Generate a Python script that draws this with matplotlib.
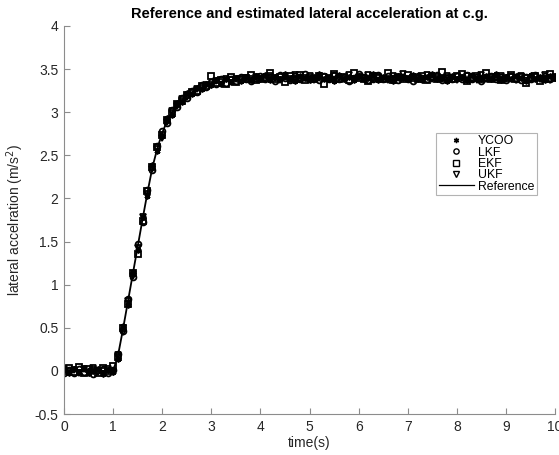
import numpy as np
import matplotlib
matplotlib.use("Agg")
import matplotlib.pyplot as plt

# sampling at 0.1 s, 0..10 s
t = np.arange(101) / 10.0

ref = ([0.0] * 11 +
       [0.18, 0.48, 0.80, 1.12, 1.44, 1.76, 2.07, 2.36, 2.58, 2.76,
        2.90, 3.00, 3.08, 3.14, 3.19, 3.23, 3.26, 3.29, 3.31, 3.33,
        3.345, 3.355, 3.365, 3.372, 3.378, 3.383, 3.387, 3.39, 3.393, 3.395] +
       [3.40] * 60)

ycoo = [0.01, -0.02, 0.02, -0.01, 0.03, -0.03, 0.00, 0.02, -0.04, 0.01, -0.01,
        0.14, 0.52, 0.76, 1.15, 1.40, 1.79, 2.03, 2.39, 2.55, 2.72,
        2.93, 2.97, 3.11, 3.12, 3.22, 3.21, 3.28, 3.27, 3.33, 3.31,
        3.37, 3.33, 3.39, 3.35, 3.40, 3.36, 3.41, 3.37, 3.42, 3.38,
        3.43, 3.37, 3.41, 3.38, 3.44, 3.39, 3.36, 3.42, 3.40, 3.37,
        3.41, 3.44, 3.38, 3.40, 3.36, 3.43, 3.39, 3.41, 3.37, 3.42,
        3.38, 3.40, 3.44, 3.37, 3.41, 3.39, 3.36, 3.42, 3.40, 3.38,
        3.43, 3.39, 3.37, 3.41, 3.44, 3.38, 3.40, 3.36, 3.42, 3.39,
        3.41, 3.37, 3.43, 3.40, 3.38, 3.42, 3.39, 3.44, 3.37, 3.41,
        3.38, 3.42, 3.40, 3.36, 3.43, 3.39, 3.41, 3.37, 3.42, 3.40]

lkf = [-0.02, 0.01, -0.03, 0.02, -0.01, 0.00, -0.04, 0.01, 0.02, -0.02, 0.01,
       0.20, 0.46, 0.83, 1.09, 1.47, 1.73, 2.10, 2.33, 2.61, 2.78,
       2.88, 3.02, 3.06, 3.16, 3.17, 3.25, 3.24, 3.31, 3.29, 3.35,
       3.33, 3.38, 3.34, 3.39, 3.36, 3.41, 3.38, 3.36, 3.40, 3.42,
       3.38, 3.41, 3.36, 3.43, 3.40, 3.37, 3.42, 3.39, 3.44, 3.38,
       3.40, 3.37, 3.42, 3.39, 3.43, 3.38, 3.41, 3.36, 3.40, 3.44,
       3.41, 3.37, 3.39, 3.43, 3.38, 3.42, 3.40, 3.37, 3.41, 3.39,
       3.36, 3.42, 3.40, 3.38, 3.41, 3.43, 3.37, 3.40, 3.38, 3.42,
       3.39, 3.43, 3.38, 3.41, 3.36, 3.40, 3.42, 3.38, 3.41, 3.37,
       3.42, 3.39, 3.37, 3.41, 3.38, 3.43, 3.40, 3.42, 3.38, 3.41]

ekf = [0.00, 0.03, -0.01, 0.04, -0.02, 0.02, 0.01, -0.03, 0.03, 0.00, 0.06,
       0.16, 0.50, 0.78, 1.13, 1.36, 1.74, 2.09, 2.37, 2.60, 2.74,
       2.91, 2.99, 3.09, 3.13, 3.20, 3.24, 3.25, 3.30, 3.30, 3.42,
       3.34, 3.37, 3.33, 3.41, 3.35, 3.38, 3.40, 3.43, 3.37, 3.39,
       3.40, 3.46, 3.38, 3.41, 3.35, 3.42, 3.39, 3.43, 3.37, 3.40,
       3.38, 3.42, 3.33, 3.40, 3.44, 3.39, 3.41, 3.37, 3.46, 3.40,
       3.39, 3.36, 3.42, 3.40, 3.38, 3.45, 3.37, 3.41, 3.39, 3.43,
       3.40, 3.38, 3.42, 3.37, 3.41, 3.39, 3.47, 3.40, 3.38, 3.42,
       3.44, 3.36, 3.40, 3.42, 3.38, 3.46, 3.39, 3.41, 3.37, 3.40,
       3.43, 3.38, 3.41, 3.34, 3.40, 3.42, 3.36, 3.39, 3.44, 3.40]

ukf = [0.02, -0.01, 0.01, -0.03, 0.02, -0.02, 0.03, -0.01, 0.00, 0.02, -0.01,
       0.19, 0.45, 0.81, 1.10, 1.42, 1.78, 2.05, 2.34, 2.57, 2.70,
       2.89, 3.01, 3.07, 3.15, 3.18, 3.22, 3.27, 3.28, 3.32, 3.32,
       3.36, 3.35, 3.38, 3.37, 3.39, 3.37, 3.40, 3.39, 3.41, 3.38,
       3.39, 3.42, 3.40, 3.37, 3.41, 3.39, 3.43, 3.38, 3.40, 3.42,
       3.37, 3.40, 3.41, 3.38, 3.42, 3.40, 3.38, 3.43, 3.39, 3.41,
       3.40, 3.43, 3.38, 3.41, 3.39, 3.37, 3.42, 3.40, 3.44, 3.38,
       3.41, 3.40, 3.38, 3.43, 3.39, 3.41, 3.38, 3.42, 3.40, 3.37,
       3.40, 3.42, 3.39, 3.37, 3.43, 3.38, 3.41, 3.40, 3.42, 3.39,
       3.41, 3.37, 3.42, 3.40, 3.38, 3.41, 3.39, 3.43, 3.37, 3.41]

names = ['YCOO', 'LKF', 'EKF', 'UKF']
markers = [(6, 2, 0), 'o', 's', 'v']

plt.rcParams['font.family'] = ['Liberation Sans', 'DejaVu Sans']

fig = plt.figure(figsize=(5.59, 4.55), dpi=100)
ax = fig.add_axes([0.1145, 0.0901, 0.8785, 0.8528])

for y, nm, mk in zip([ycoo, lkf, ekf, ukf], names, markers):
  ax.plot(t, y, linestyle='none', marker=mk, markersize=4.2,
          markerfacecolor='none', markeredgecolor='black',
          markeredgewidth=1.3, label=nm)
ax.plot(t, ref, color='black', linewidth=1.3, label='Reference')

ax.set_xlim(0, 10)
ax.set_ylim(-0.5, 4)
ax.set_xticks(range(0, 11))
ax.set_yticks(np.arange(-0.5, 4.01, 0.5))
ax.set_yticklabels(['-0.5', '0', '0.5', '1', '1.5', '2', '2.5', '3', '3.5', '4'])

for s in ['top', 'right']:
  ax.spines[s].set_visible(False)
for s in ['left', 'bottom']:
  ax.spines[s].set_color('#8c8c8c')
  ax.spines[s].set_linewidth(0.8)
ax.tick_params(direction='in', length=4, color='#8c8c8c', labelsize=10,
               labelcolor='#262626', pad=4)

ax.set_xlabel('time(s)', fontsize=10, color='#262626', labelpad=2)
ax.set_ylabel('lateral accelration (m/s$^2$)', fontsize=10, color='#262626', labelpad=6)
ax.set_title('Reference and estimated lateral acceleration at c.g.',
             fontsize=10.5, fontweight='bold', pad=6)

leg = ax.legend(loc='upper left', bbox_to_anchor=(0.758, 0.725), fontsize=8.8,
                frameon=True, fancybox=False, edgecolor='#a0a0a0',
                handlelength=2.9, handletextpad=0.3, labelspacing=-0.05,
                borderpad=0.2, borderaxespad=0, markerscale=0.9)
leg.get_frame().set_linewidth(0.8)
for h in leg.legend_handles[:4]:
  h.set_markeredgewidth(1.0)
leg.legend_handles[4].set_linewidth(0.9)

fig.savefig('out.png', dpi=100)
